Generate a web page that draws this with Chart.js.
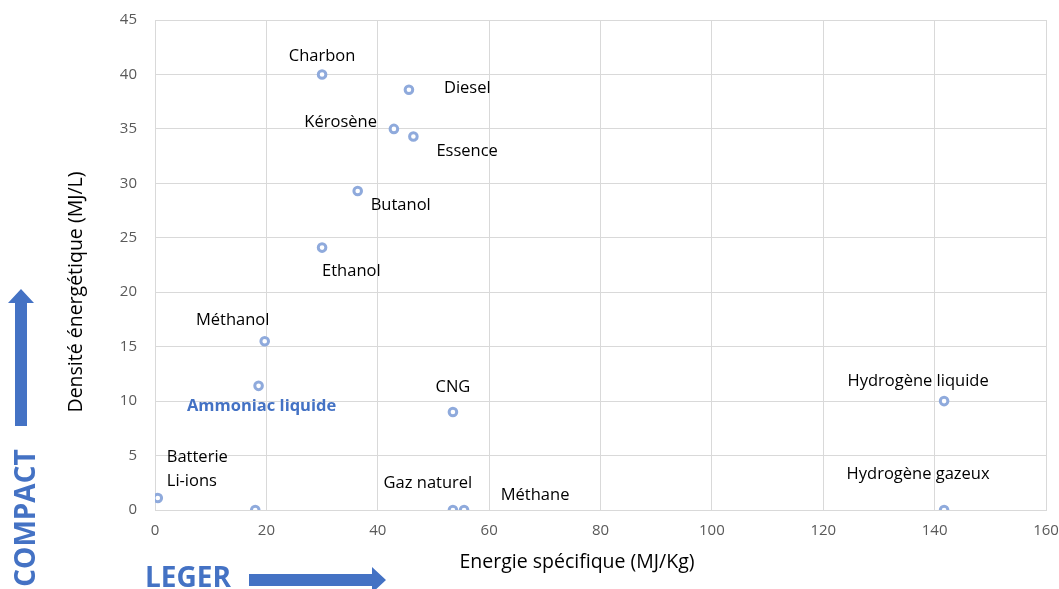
<!DOCTYPE html>
<html>
<head>
<meta charset="utf-8">
<script src="https://cdn.jsdelivr.net/npm/chart.js@4.4.1/dist/chart.umd.min.js"></script>
<style>
html,body{margin:0;padding:0;background:#fff;}
#wrap{width:1059px;height:589px;position:relative;}
</style>
</head>
<body>
<div id="wrap"><canvas id="c" width="1059" height="589"></canvas></div>
<script>
// ---- data ----
const names = ["Charbon","Diesel","Kérosène","Essence","Butanol","Ethanol","Méthanol","Ammoniac liquide","CNG","Hydrogène liquide","Batterie\nLi-ions","","Gaz naturel","Méthane","Hydrogène gazeux"];
const specificEnergy = [30, 45.6, 42.9, 46.4, 36.4, 30, 19.7, 18.6, 53.5, 141.7, 0.5, 18, 53.5, 55.5, 141.7];
const energyDensity = [40, 38.6, 35, 34.3, 29.3, 24.1, 15.5, 11.4, 9, 10, 1.1, 0, 0, 0, 0];
const xTicks = [0,20,40,60,80,100,120,140,160];
const yTicks = [0,5,10,15,20,25,30,35,40,45];
const xTitle = "Energie spécifique (MJ/Kg)";
const yTitle = "Densité énergétique (MJ/L)";

// label placement (pixel offsets from point, text alignment)
const labelOffsets = [
  {dx:0, dy:-18, align:"center"},
  {dx:35, dy:-1, align:"left"},
  {dx:-17, dy:-7, align:"right"},
  {dx:23, dy:15, align:"left"},
  {dx:13, dy:14, align:"left"},
  {dx:0, dy:24, align:"left"},
  {dx:-32, dy:-21, align:"center"},
  {dx:3, dy:20, align:"center"},
  {dx:0, dy:-25, align:"center"},
  {dx:-26, dy:-20, align:"center"},
  {dx:9, dy:-41, align:"left"},
  {dx:0, dy:0, align:"center"},
  {dx:-25, dy:-27, align:"center"},
  {dx:71, dy:-15, align:"center"},
  {dx:-26, dy:-36, align:"center"}
];
const labelColors = names.map(n => n === "Ammoniac liquide" ? "#4472c4" : "#000000");

const points = specificEnergy.map((x,i)=>({x:x, y:energyDensity[i]}));

const FONT = "'Open Sans', 'DejaVu Sans', sans-serif";

const labelPlugin = {
  id: 'pointLabels',
  afterDatasetsDraw(chart){
    const ctx = chart.ctx;
    const meta = chart.getDatasetMeta(0);
    ctx.save();
    ctx.textBaseline = "middle";
    meta.data.forEach((el,i)=>{
      const name = names[i];
      if(!name) return;
      const o = labelOffsets[i];
      const bold = name === "Ammoniac liquide";
      ctx.font = bold ? ("bold 16.5px " + FONT) : ("16.5px " + FONT);
      ctx.fillStyle = labelColors[i];
      ctx.textAlign = o.align;
      const lines = name.split("\n");
      lines.forEach((ln,k)=>{
        ctx.fillText(ln, el.x + o.dx, el.y + o.dy + k*24);
      });
    });
    ctx.restore();
  }
};

const decoPlugin = {
  id: 'deco',
  afterDraw(chart){
    const ctx = chart.ctx;
    // axis titles
    ctx.save();
    ctx.fillStyle = "#000";
    ctx.font = "19.5px " + FONT;
    ctx.textAlign = "center";
    ctx.textBaseline = "middle";
    ctx.fillText(xTitle, 577, 562);
    ctx.translate(76, 292);
    ctx.rotate(-Math.PI/2);
    ctx.fillText(yTitle, 0, 0);
    ctx.restore();

    ctx.save();
    const blue = "#4472c4";
    ctx.fillStyle = blue;
    // up arrow
    ctx.beginPath();
    ctx.moveTo(15,426); ctx.lineTo(15,303); ctx.lineTo(8,303);
    ctx.lineTo(21,289); ctx.lineTo(34,303); ctx.lineTo(27,303); ctx.lineTo(27,426);
    ctx.closePath(); ctx.fill();
    // right arrow
    ctx.beginPath();
    ctx.moveTo(249,574); ctx.lineTo(372,574); ctx.lineTo(372,567);
    ctx.lineTo(386,580); ctx.lineTo(372,593); ctx.lineTo(372,586); ctx.lineTo(249,586);
    ctx.closePath(); ctx.fill();
    // COMPACT
    ctx.font = "bold 28px " + FONT;
    ctx.textAlign = "center";
    ctx.textBaseline = "middle";
    ctx.translate(27, 518);
    ctx.rotate(-Math.PI/2);
    ctx.fillText("COMPACT", 0, 0);
    ctx.restore();
    ctx.save();
    ctx.fillStyle = blue;
    ctx.font = "bold 28px " + FONT;
    ctx.textAlign = "left";
    ctx.textBaseline = "middle";
    ctx.fillText("LEGER", 145, 579);
    ctx.restore();
  }
};

new Chart(document.getElementById('c'), {
  type: 'scatter',
  data: {
    datasets: [{
      data: points,
      pointStyle: 'circle',
      pointRadius: 3.8,
      pointHoverRadius: 3.8,
      pointBorderWidth: 3,
      pointBackgroundColor: '#ffffff',
      pointBorderColor: '#8faadc'
    }]
  },
  options: {
    responsive: false,
    animation: false,
    events: [],
    layout: { padding: { top: 20, right: 13, left: 0, bottom: 0 } },
    plugins: { legend: { display: false }, tooltip: { enabled: false } },
    scales: {
      x: {
        type: 'linear', min: 0, max: 160,
        afterBuildTicks(s){ s.ticks = xTicks.map(v=>({value:v})); },
        afterFit(s){ s.height = 79; s.paddingLeft = 0; s.paddingRight = 0; },
        grid: { color: '#d9d9d9', drawTicks: false },
        border: { color: '#d9d9d9' },
        ticks: { color: '#595959', padding: 12, font: { family: FONT, size: 15 } },
        title: { display: false }
      },
      y: {
        type: 'linear', min: 0, max: 45,
        afterBuildTicks(s){ s.ticks = yTicks.map(v=>({value:v})); },
        afterFit(s){ s.width = 155; s.paddingTop = 0; s.paddingBottom = 0; },
        grid: { color: '#d9d9d9', drawTicks: false },
        border: { color: '#d9d9d9' },
        ticks: { color: '#595959', padding: 18, font: { family: FONT, size: 15 } },
        title: { display: false }
      }
    }
  },
  plugins: [labelPlugin, decoPlugin]
});
</script>
</body>
</html>
